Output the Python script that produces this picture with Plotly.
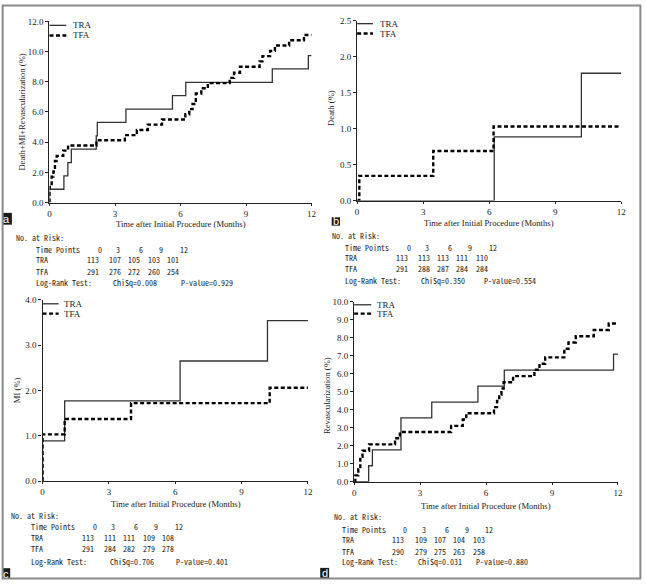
import plotly.graph_objects as go

W, H = 646, 584

# ---- data (months, cumulative %) ----
a_tra_t = [0, 0, 0.66, 0.84, 1.0, 2.14, 2.19, 3.5, 5.63, 6.24, 10.2, 11.85, 12]
a_tra_v = [0, 0.88, 1.77, 2.65, 3.54, 4.42, 5.31, 6.19, 7.08, 7.96, 8.85, 9.73, 9.73]
a_tfa_t = [0, 0, 0.1, 0.18, 0.25, 0.33, 0.63, 0.85, 2.15, 3.45, 4.0, 4.5, 5.15,
           6.22, 6.4, 6.55, 6.7, 6.95, 7.25, 8.25, 8.45, 8.72, 9.62, 9.75, 10.1,
           10.32, 10.97, 11.65, 12]
a_tfa_v = [0, 1.03, 1.72, 2.06, 2.75, 3.09, 3.44, 3.78, 4.13, 4.47, 4.81, 5.16, 5.5,
           5.85, 6.19, 6.53, 7.22, 7.57, 7.91, 8.26, 8.6, 9.0, 9.35, 9.7, 10.05,
           10.4, 10.75, 11.1, 11.1]

b_tra_t = [0, 6.23, 10.19, 12]
b_tra_v = [0, 0.885, 1.77, 1.77]
b_tfa_t = [0, 0.1, 3.46, 6.2, 12]
b_tfa_v = [0, 0.344, 0.69, 1.03, 1.03]

c_tra_t = [0, 0, 1.0, 6.22, 10.17, 12]
c_tra_v = [0, 0.885, 1.77, 2.65, 3.54, 3.54]
c_tfa_t = [0, 0, 1.0, 4.0, 10.27, 12]
c_tfa_v = [0, 1.03, 1.37, 1.72, 2.06, 2.06]

d_tra_t = [0, 0.66, 0.83, 2.13, 3.53, 5.63, 6.83, 11.8, 12]
d_tra_v = [0, 0.885, 1.77, 3.54, 4.42, 5.31, 6.19, 7.08, 7.08]
d_tfa_t = [0, 0.05, 0.19, 0.28, 0.38, 0.68, 1.86, 2.08, 4.41, 4.94, 5.1, 6.36, 6.5,
           6.6, 6.7, 6.8, 7.23, 8.2, 8.43, 8.69, 9.56, 9.75, 10.08, 10.9, 11.58, 12]
d_tfa_v = [0, 0.35, 0.69, 1.38, 1.72, 2.07, 2.41, 2.76, 3.1, 3.45, 3.8, 4.14, 4.48,
           4.83, 5.17, 5.52, 5.86, 6.21, 6.55, 6.9, 7.38, 7.73, 8.07, 8.42, 8.78, 8.78]

time_points = [0, 3, 6, 9, 12]
a_tra_risk = [113, 107, 105, 103, 101]
a_tfa_risk = [291, 276, 272, 260, 254]
b_tra_risk = [113, 113, 113, 111, 110]
b_tfa_risk = [291, 288, 287, 284, 284]
c_tra_risk = [113, 111, 111, 109, 108]
c_tfa_risk = [291, 284, 282, 279, 278]
d_tra_risk = [113, 109, 107, 104, 103]
d_tfa_risk = [290, 279, 275, 263, 258]
chisq = ["0.008", "0.350", "0.706", "0.031"]
pvals = ["0.929", "0.554", "0.401", "0.880"]
y_titles = ["Death+MI+Revascularization (%)", "Death (%)", "MI (%)", "Revascularization (%)"]
x_title = "Time after Initial Procedure (Months)"
letters = ["a", "b", "c", "d"]

SERIF = "Liberation Serif, Times New Roman, serif"
MONO = "Noto Sans Mono CJK SC, Liberation Mono, monospace"
INK = "#222"


def px(x):
    return x / W


def py(y):
    return 1 - y / H


# panel geometry in pixels: x0, x1 (0 and 12 months), yb (value 0), yt (top)
panels = [
    dict(x0=48, x1=313, yb=201, yt=16.7, ymax=12, dt=2),
    dict(x0=359, x1=626, yb=199, yt=16, ymax=2.5, dt=0.5),
    dict(x0=41, x1=309.3, yb=484.3, yt=300, ymax=4, dt=1),
    dict(x0=356, x1=622.7, yb=485, yt=301.7, ymax=10, dt=1),
]
series = [
    (a_tra_t, a_tra_v, a_tfa_t, a_tfa_v),
    (b_tra_t, b_tra_v, b_tfa_t, b_tfa_v),
    (c_tra_t, c_tra_v, c_tfa_t, c_tfa_v),
    (d_tra_t, d_tra_v, d_tfa_t, d_tfa_v),
]
risks = [(a_tra_risk, a_tfa_risk), (b_tra_risk, b_tfa_risk),
         (c_tra_risk, c_tfa_risk), (d_tra_risk, d_tfa_risk)]

# text positions (pixels)
ytitle_pos = [(20.7, 109), (333.3, 105), (15, 392), (328.3, 397)]
xtitle_pos = [(180.8, 223), (492, 221.5), (175.5, 507.5), (489, 509.5)]
legend_pos = [(48, 65, 20.7, 31, 70), (359, 375, 19, 29, 380),
              (41, 57.3, 304, 314, 60.7), (356, 373.3, 305, 314, 377.3)]
letter_box = [(0, 10, 211.5, 223.5), (333.3, 341.7, 216, 224.5),
              (0, 8.3, 573, 584), (321.7, 330.7, 572.7, 583.5)]
# table: no_at_risk x, left col x, row ys, chisq x, p x
table_pos = [
    (11.7, 32.7, [237, 248.3, 259.3, 270.7, 282.7], 110, 179),
    (331.7, 345, [235, 246.7, 257.3, 268.3, 280], 421.7, 485.7),
    (6.7, 27.7, [519.5, 531, 542, 553, 566], 106.7, 174),
    (333.3, 341.7, [520, 533.3, 544.3, 555.7, 566.7], 418.3, 477.3),
]
head_off = [66, 85, 108, 128, 151]
data_off = [59, 81.5, 101, 120.5, 140.5]

fig = go.Figure()
shapes = []
ann = []


def note(x, y, s, font, anchor="center", angle=0):
    ann.append(dict(x=px(x), y=py(y), text=s, showarrow=False, xanchor=anchor,
                    yanchor="middle", textangle=angle, xref="paper", yref="paper",
                    font=font))


tick_font = dict(family=SERIF, size=9, color=INK)
title_font = dict(family=SERIF, size=8.6, color=INK)

for i, p in enumerate(panels):
    sfx = "" if i == 0 else str(i + 1)
    xa, ya = "x" + sfx, "y" + sfx
    tra_t, tra_v, tfa_t, tfa_v = series[i]
    fig.add_trace(go.Scatter(x=tra_t, y=tra_v, mode="lines", line_shape="hv",
                             line=dict(color="#333", width=1.3), name="TRA",
                             xaxis=xa, yaxis=ya, showlegend=False))
    fig.add_trace(go.Scatter(x=tfa_t, y=tfa_v, mode="lines", line_shape="hv",
                             line=dict(color="#000", width=2.4, dash="4px,2.5px"),
                             name="TFA", xaxis=xa, yaxis=ya, showlegend=False))
    ax = dict(
        domain=[px(p["x0"]), px(p["x1"])], range=[0, 12], tickvals=time_points,
        showline=True, linecolor="#222", linewidth=1.3, ticks="outside", ticklen=2,
        tickcolor="#222", showgrid=False, zeroline=False, tickfont=tick_font, anchor=ya,
    )
    ay = dict(
        domain=[py(p["yb"]), py(p["yt"])], range=[0, p["ymax"]], dtick=p["dt"],
        tick0=0, tickformat=".1f", showline=True, linecolor="#222", linewidth=1.3,
        ticks="outside", ticklen=3, tickcolor="#222", showgrid=False, zeroline=False,
        tickfont=tick_font, anchor=xa,
    )
    fig.update_layout({"xaxis" + sfx: ax, "yaxis" + sfx: ay})

    tx, ty = ytitle_pos[i]
    note(tx, ty, y_titles[i], title_font, angle=-90)
    tx, ty = xtitle_pos[i]
    note(tx, ty, x_title, title_font)

    # legend
    lx0, lx1, ly1, ly2, ltx = legend_pos[i]
    shapes.append(dict(type="line", xref="paper", yref="paper", x0=px(lx0), x1=px(lx1),
                       y0=py(ly1), y1=py(ly1), line=dict(color="#333", width=1.3)))
    shapes.append(dict(type="line", xref="paper", yref="paper", x0=px(lx0), x1=px(lx1),
                       y0=py(ly2), y1=py(ly2), line=dict(color="#000", width=2.4, dash="4px,2.5px")))
    note(ltx, ly1, "TRA", tick_font, "left")
    note(ltx, ly2, "TFA", tick_font, "left")

    # panel letter
    bx0, bx1, by0, by1 = letter_box[i]
    shapes.append(dict(type="rect", xref="paper", yref="paper", x0=px(bx0), x1=px(bx1),
                       y0=py(by1), y1=py(by0), fillcolor="#1a1a1a", line=dict(width=0)))
    note((bx0 + bx1) / 2, (by0 + by1) / 2, letters[i],
         dict(family="Liberation Sans, Arial, sans-serif", size=11, color="white"))

    # number-at-risk table
    nx, lx, rows, cx, pxx = table_pos[i]
    tra_r, tfa_r = risks[i]
    mono = dict(family=MONO, size=8, color=INK)
    note(nx, rows[0], "No. at Risk:", mono, "left")
    note(lx, rows[1], "Time Points", mono, "left")
    note(lx, rows[2], "TRA", mono, "left")
    note(lx, rows[3], "TFA", mono, "left")
    note(lx, rows[4], "Log-Rank Test:", mono, "left")
    note(cx, rows[4], "ChiSq=" + chisq[i], mono, "left")
    note(pxx, rows[4], "P-value=" + pvals[i], mono, "left")
    for k in range(5):
        note(lx + head_off[k], rows[1], str(time_points[k]), mono)
        note(lx + data_off[k], rows[2], str(tra_r[k]), mono)
        note(lx + data_off[k], rows[3], str(tfa_r[k]), mono)

# outer frame
shapes.append(dict(type="rect", xref="paper", yref="paper", x0=0.001, x1=0.999,
                   y0=0.001, y1=0.999, line=dict(color="#8a8a8a", width=2)))

fig.update_layout(
    width=W, height=H, margin=dict(l=0, r=0, t=0, b=0),
    paper_bgcolor="white", plot_bgcolor="white",
    shapes=shapes, annotations=ann, showlegend=False,
)

fig.write_html("out.html", config={"displayModeBar": False},
               post_script="document.body.style.margin='0';document.body.style.overflow='hidden';")
